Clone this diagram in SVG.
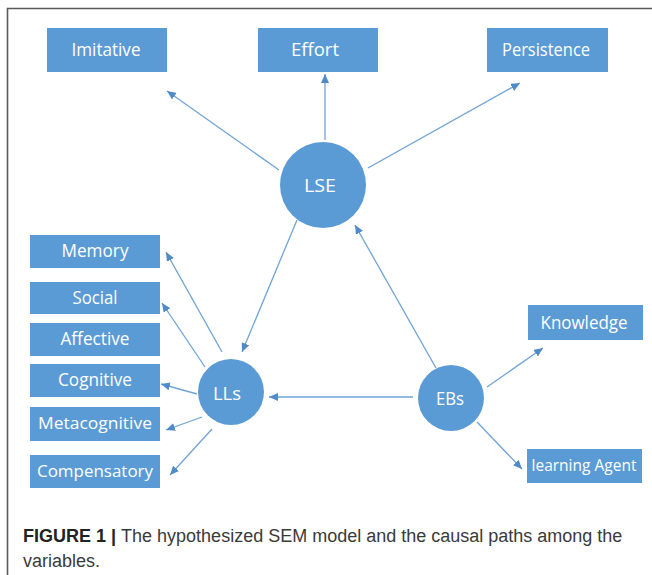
<svg xmlns="http://www.w3.org/2000/svg" width="652" height="575" viewBox="0 0 652 575">
<defs>
<marker id="ah" markerUnits="userSpaceOnUse" markerWidth="9" markerHeight="8" refX="9" refY="4" orient="auto">
<path d="M0,0 L9,4 L0,8 z" fill="#4F8BC9"/>
</marker>
<style>
.box{fill:#5B9BD5;}
.circ{fill:#5B9BD5;}
.lbl{font-family:"Open Sans","Noto Sans",sans-serif;font-size:19px;fill:#ffffff;text-anchor:middle;dominant-baseline:central;}
.sm{font-size:17px;}
.xs{font-size:15.5px;}
.con line{stroke:#6FA3D6;stroke-width:1.3;marker-end:url(#ah);}
.cap{font-family:"Liberation Sans",Arial,sans-serif;font-size:18px;fill:#3a3a3a;}
</style>
</defs>
<rect x="0" y="0" width="652" height="575" fill="#ffffff"/>
<path d="M7.5,575 L7.5,8.5 L652,8.5" fill="none" stroke="#5a5a5a" stroke-width="1.6"/>

<g id="connectors" class="con">
<line x1="279" y1="170" x2="167" y2="91"/>
<line x1="325" y1="140" x2="325" y2="74"/>
<line x1="368" y1="168" x2="520" y2="83"/>
<line x1="297" y1="220" x2="242" y2="352"/>
<line x1="436" y1="368" x2="355" y2="225"/>
<line x1="413" y1="397" x2="269" y2="397"/>
<line x1="487" y1="387" x2="543" y2="348"/>
<line x1="477" y1="422" x2="522" y2="469"/>
<line x1="222" y1="352" x2="166" y2="252"/>
<line x1="205" y1="367" x2="162" y2="303"/>
<line x1="197" y1="394" x2="161" y2="384"/>
<line x1="202" y1="417" x2="166" y2="430"/>
<line x1="212" y1="429" x2="170" y2="475"/>
</g>

<g id="imitative"><rect class="box" x="47" y="28" width="120" height="44"/><text class="lbl" x="106" y="49" textLength="69" lengthAdjust="spacingAndGlyphs">Imitative</text></g>
<g id="effort"><rect class="box" x="258" y="28" width="120" height="44"/><text class="lbl" x="315" y="49" textLength="48" lengthAdjust="spacingAndGlyphs">Effort</text></g>
<g id="persistence"><rect class="box" x="487" y="28" width="121" height="44"/><text class="lbl" x="546" y="49" textLength="88" lengthAdjust="spacingAndGlyphs">Persistence</text></g>

<g id="lse"><circle class="circ" cx="323" cy="185" r="43"/><text class="lbl" x="320" y="185" textLength="32" lengthAdjust="spacingAndGlyphs">LSE</text></g>
<g id="lls"><circle class="circ" cx="231" cy="392" r="33"/><text class="lbl" x="227" y="393" textLength="28" lengthAdjust="spacingAndGlyphs">LLs</text></g>
<g id="ebs"><circle class="circ" cx="451" cy="398" r="33"/><text class="lbl" x="450" y="398" textLength="28" lengthAdjust="spacingAndGlyphs">EBs</text></g>

<g id="memory"><rect class="box" x="30" y="235" width="130" height="33"/><text class="lbl" x="95" y="250" textLength="67" lengthAdjust="spacingAndGlyphs">Memory</text></g>
<g id="social"><rect class="box" x="30" y="282" width="130" height="32"/><text class="lbl" x="95" y="297" textLength="45" lengthAdjust="spacingAndGlyphs">Social</text></g>
<g id="affective"><rect class="box" x="30" y="323" width="130" height="33"/><text class="lbl" x="95" y="338" textLength="69" lengthAdjust="spacingAndGlyphs">Affective</text></g>
<g id="cognitive"><rect class="box" x="30" y="364" width="130" height="33"/><text class="lbl" x="95" y="379" textLength="74" lengthAdjust="spacingAndGlyphs">Cognitive</text></g>
<g id="metacognitive"><rect class="box" x="30" y="407" width="130" height="34"/><text class="lbl sm" x="95" y="422" textLength="114" lengthAdjust="spacingAndGlyphs">Metacognitive</text></g>
<g id="compensatory"><rect class="box" x="30" y="455" width="130" height="33"/><text class="lbl sm" x="95" y="470" textLength="116" lengthAdjust="spacingAndGlyphs">Compensatory</text></g>

<g id="knowledge"><rect class="box" x="528" y="305" width="115" height="35"/><text class="lbl" x="584" y="322" textLength="87" lengthAdjust="spacingAndGlyphs">Knowledge</text></g>
<g id="learning-agent"><rect class="box" x="527" y="449" width="115" height="34"/><text class="lbl xs" x="584" y="465">learning Agent</text></g>

<g id="caption">
<text class="cap" x="23" y="542"><tspan font-weight="bold" fill="#222222">FIGURE 1 | </tspan>The hypothesized SEM model and the causal paths among the</text>
<text class="cap" x="23" y="567">variables.</text>
</g>
</svg>
